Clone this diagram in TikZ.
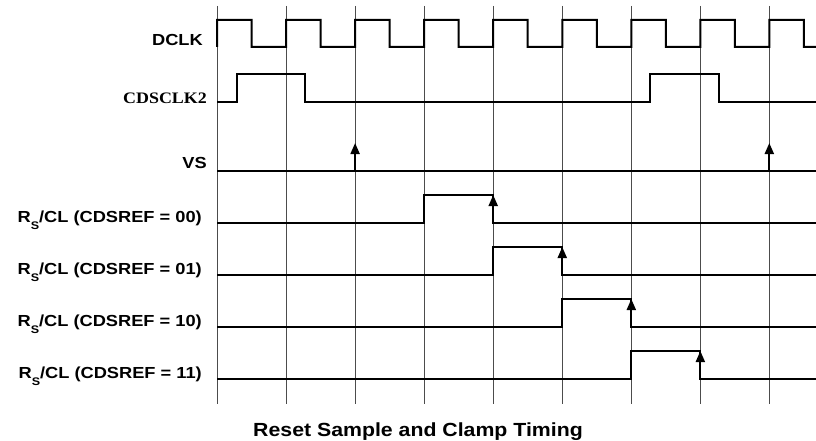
\documentclass[tikz,border=0pt]{standalone}
\usepackage{fontspec}
\usepackage{tikz}
\usetikzlibrary{calc}
\usetikzlibrary{arrows.meta,positioning}
\newfontfamily\sigfont[FakeStretch=1.14]{Liberation Sans}
\newfontfamily\serfont[FakeStretch=1.12]{Liberation Serif}
\newfontfamily\capfont[FakeStretch=1.12]{Liberation Sans}
\definecolor{gridgray}{rgb}{0.3,0.3,0.3}
\newcommand{\Rs}{R\raisebox{-7pt}{\fontsize{11}{11}\selectfont S}/CL}
\newcommand{\T}{69.05}

\begin{document}
\begin{tikzpicture}[x=1pt,y=-1pt,
    grid/.style={gridgray,line width=1pt},
    wave/.style={black,line width=2pt,line join=miter},
    edge/.style={black,line width=2pt,-{Triangle[length=11pt,width=9pt]}},
    sig/.style={anchor=base east,inner sep=0pt,font=\sigfont\bfseries\fontsize{16}{16}\selectfont}]
      \useasboundingbox (0,0) rectangle (816,441);
      \foreach \k in {0,...,8}
        \draw[grid] ({217+\T*\k},6) -- ({217+\T*\k},404);
      % clocks
      \draw[wave] (217,47) \foreach \k in {0,...,7} {
        -- ({217+\T*\k},20) -- ({251.5+\T*\k},20) -- ({251.5+\T*\k},47) -- ({286.05+\T*\k},47)}
        -- (769.3,20) -- (803.8,20) -- (803.8,47) -- (816,47);
      \draw[wave] (217,102) -- (236.5,102) -- (236.5,74) -- (304.5,74) -- (304.5,102)
        -- (649.5,102) -- (649.5,74) -- (718.5,74) -- (718.5,102) -- (816,102);
      \draw[wave] (217,171) -- (816,171);
      \draw[edge] (355.1,171) -- (355.1,143);
      \draw[edge] (769.3,171) -- (769.3,143);
      % reset / clamp
      \foreach \j/\y in {0/223,1/275,2/327,3/379} {
        \draw[wave] (217,\y) -- ({217+\T*(3+\j)},\y) -- ({217+\T*(3+\j)},\y-28)
          -- ({217+\T*(4+\j)},\y-28) -- ({217+\T*(4+\j)},\y) -- (816,\y);
        \draw[edge] ({217+\T*(4+\j)},\y) -- ({217+\T*(4+\j)},\y-28);
      }
      \node[sig] (dclk) at (203,46) {DCLK};
      \node[anchor=base east,inner sep=0pt,font=\serfont\bfseries\fontsize{16}{16}\selectfont] (cdsclk) at (207,104) {CDSCLK2};
      \node[sig] (vs) at (207,168) {VS};
      \node[sig] (rs00) at (202,222.5) {\Rs{} (CDSREF = 00)};
      \node[sig] (rs01) at (202,274.5) {\Rs{} (CDSREF = 01)};
      \node[sig] (rs10) at (202,326.5) {\Rs{} (CDSREF = 10)};
      \node[sig] (rs11) at (202,378.5) {\Rs{} (CDSREF = 11)};
      \node[anchor=base,inner sep=0pt,font=\capfont\bfseries\fontsize{19}{19}\selectfont] (title) at (418,436) {Reset Sample and Clamp Timing};
    \end{tikzpicture}
\end{document}
